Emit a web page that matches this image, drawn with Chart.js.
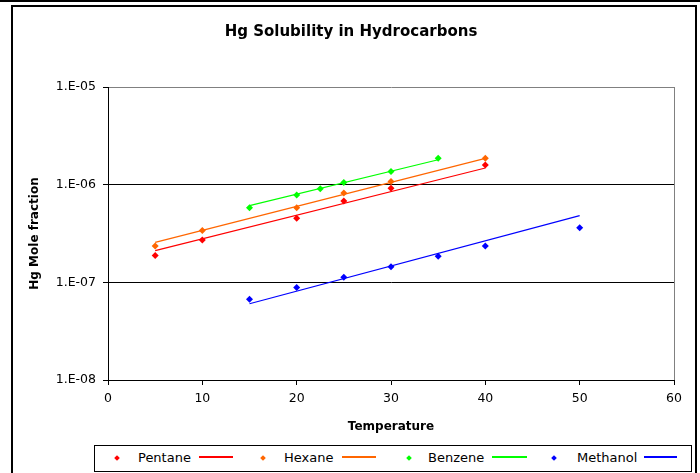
<!DOCTYPE html>
<html>
<head>
<meta charset="utf-8">
<script src="https://cdn.jsdelivr.net/npm/chart.js@4/dist/chart.umd.min.js"></script>
<style>
  html, body { margin: 0; padding: 0; background: #fff; }
  body { width: 700px; height: 473px; position: relative; overflow: hidden; font-family: "DejaVu Sans", sans-serif; }
  #c { position: absolute; left: 0; top: 0; }
  .frameTop { position: absolute; left: 0; top: 0; width: 700px; height: 2px; background: #000; }
  .frameBox { position: absolute; left: 11px; top: 5px; width: 686px; height: 480px; border: 2px solid #000; box-sizing: border-box; }
  .legendBox { position: absolute; left: 94px; top: 445px; width: 598px; height: 27px; border: 1px solid #000; box-sizing: border-box; background: #fff; }
  .lm { position: absolute; width: 4px; height: 4px; transform: rotate(45deg); }
  .ll { position: absolute; height: 2px; }
  .lt { position: absolute; font-size: 13px; line-height: 15px; color: #000; white-space: nowrap; }
</style>
</head>
<body>
<canvas id="c" width="700" height="473"></canvas>
<div class="frameTop"></div>
<div class="frameBox"></div>
<div class="legendBox"></div>
<div id="legend"></div>
<script>
// ---- data ----
const seriesNames = ['Pentane', 'Hexane', 'Benzene', 'Methanol'];
const seriesColors = ['#FF0000', '#FF6600', '#00FF00', '#0000FF'];

const pentaneT = [5, 10, 20, 25, 30, 40];
const pentaneX = [1.88e-7, 2.72e-7, 4.53e-7, 6.81e-7, 9.17e-7, 1.59e-6];

const hexaneT = [5, 10, 20, 25, 30, 40];
const hexaneX = [2.36e-7, 3.39e-7, 5.82e-7, 8.22e-7, 1.08e-6, 1.86e-6];

const benzeneT = [15, 20, 22.5, 25, 30, 35];
const benzeneX = [5.82e-7, 7.84e-7, 9.1e-7, 1.05e-6, 1.36e-6, 1.86e-6];

const methanolT = [15, 20, 25, 30, 35, 40, 50];
const methanolX = [6.71e-8, 8.85e-8, 1.13e-7, 1.44e-7, 1.85e-7, 2.36e-7, 3.63e-7];

// trend lines (end points)
const pentaneFitT = [5, 40];
const pentaneFitX = [2.11e-7, 1.48e-6];
const hexaneFitT = [5, 40];
const hexaneFitX = [2.57e-7, 1.86e-6];
const benzeneFitT = [15, 35];
const benzeneFitX = [6.1e-7, 1.80e-6];
const methanolFitT = [15, 50];
const methanolFitX = [6.03e-8, 4.82e-7];

const xTicks = [0, 10, 20, 30, 40, 50, 60];
const yTicks = [1e-8, 1e-7, 1e-6, 1e-5];

// ---- build ----
function pts(xs, ys) { return xs.map((x, i) => ({ x: x, y: ys[i] })); }

const pointSets = [[pentaneT, pentaneX], [hexaneT, hexaneX], [benzeneT, benzeneX], [methanolT, methanolX]];
const fitSets = [[pentaneFitT, pentaneFitX], [hexaneFitT, hexaneFitX], [benzeneFitT, benzeneFitX], [methanolFitT, methanolFitX]];

const datasets = [];
seriesNames.forEach((name, i) => {
  datasets.push({
    label: name,
    data: pts(pointSets[i][0], pointSets[i][1]),
    showLine: false,
    pointStyle: 'rectRot',
    pointRadius: 3.5,
    pointBorderWidth: 0,
    backgroundColor: seriesColors[i],
    borderColor: seriesColors[i],
    order: 1
  });
  datasets.push({
    label: name + ' fit',
    data: pts(fitSets[i][0], fitSets[i][1]),
    showLine: true,
    pointRadius: 0,
    borderWidth: 1.2,
    borderColor: seriesColors[i],
    backgroundColor: seriesColors[i],
    fill: false,
    order: 2
  });
});

function expLabel(v) {
  const e = Math.round(Math.log10(v));
  return '1.E' + (e < 0 ? '-' : '+') + String(Math.abs(e)).padStart(2, '0');
}

new Chart(document.getElementById('c'), {
  type: 'scatter',
  data: { datasets: datasets },
  options: {
    responsive: false,
    animation: false,
    devicePixelRatio: 1,
    layout: { padding: { left: 28, right: 26, top: 0, bottom: 39 } },
    plugins: {
      legend: { display: false },
      tooltip: { enabled: false },
      title: {
        display: true,
        text: 'Hg Solubility in Hydrocarbons',
        color: '#000',
        font: { family: 'DejaVu Sans', size: 15, weight: 'bold', lineHeight: 1.2 },
        padding: { top: 23, bottom: 46 }
      }
    },
    scales: {
      x: {
        type: 'linear',
        min: 0, max: 60,
        afterBuildTicks: (s) => { s.ticks = xTicks.map(v => ({ value: v })); },
        afterFit: (s) => { s.height = 54; },
        ticks: { color: '#000', padding: 6, font: { family: 'DejaVu Sans', size: 12.5 } },
        grid: {
          drawOnChartArea: true,
          drawTicks: true,
          tickLength: 5,
          tickColor: '#000',
          color: (ctx) => (ctx.tick && ctx.tick.value === 60) ? '#808080' : 'rgba(0,0,0,0)',
          lineWidth: 1
        },
        border: { display: true, color: '#000', width: 1 },
        title: {
          display: true, text: 'Temperature', color: '#000',
          font: { family: 'DejaVu Sans', size: 12, weight: 'bold', lineHeight: 1.2 },
          padding: { top: 0, bottom: 0 }
        }
      },
      y: {
        type: 'logarithmic',
        min: 1e-8, max: 1e-5,
        afterBuildTicks: (s) => { s.ticks = yTicks.map(v => ({ value: v })); },
        afterFit: (s) => { s.width = 80; },
        ticks: { color: '#000', padding: 7, font: { family: 'DejaVu Sans', size: 12.5 }, callback: (v) => expLabel(v) },
        grid: {
          drawOnChartArea: true,
          drawTicks: true,
          tickLength: 5,
          tickColor: '#000',
          color: (ctx) => {
            if (!ctx.tick) return 'rgba(0,0,0,0)';
            const e = Math.round(Math.log10(ctx.tick.value));
            if (e === -5) return '#808080';
            if (e === -8) return 'rgba(0,0,0,0)';
            return '#000';
          },
          lineWidth: 1
        },
        border: { display: true, color: '#000', width: 1 },
        title: {
          display: true, text: 'Hg Mole fraction', color: '#000',
          font: { family: 'DejaVu Sans', size: 12, weight: 'bold', lineHeight: 1.2 },
          padding: { top: 0, bottom: 0 }
        }
      }
    }
  }
});

// ---- legend (HTML) ----
const legendPos = [
  { m: 117, t: 138, l1: 199, l2: 233 },
  { m: 263, t: 284, l1: 342, l2: 376 },
  { m: 409, t: 428, l1: 492, l2: 527 },
  { m: 554, t: 577, l1: 644, l2: 677 }
];
const lg = document.getElementById('legend');
seriesNames.forEach((name, i) => {
  const p = legendPos[i];
  const m = document.createElement('div');
  m.className = 'lm';
  m.style.left = (p.m - 2) + 'px';
  m.style.top = '456px';
  m.style.background = seriesColors[i];
  lg.appendChild(m);
  const t = document.createElement('div');
  t.className = 'lt';
  t.style.left = p.t + 'px';
  t.style.top = '450px';
  t.textContent = name;
  lg.appendChild(t);
  const l = document.createElement('div');
  l.className = 'll';
  l.style.left = p.l1 + 'px';
  l.style.width = (p.l2 - p.l1) + 'px';
  l.style.top = '456px';
  l.style.background = seriesColors[i];
  lg.appendChild(l);
});
</script>
</body>
</html>
